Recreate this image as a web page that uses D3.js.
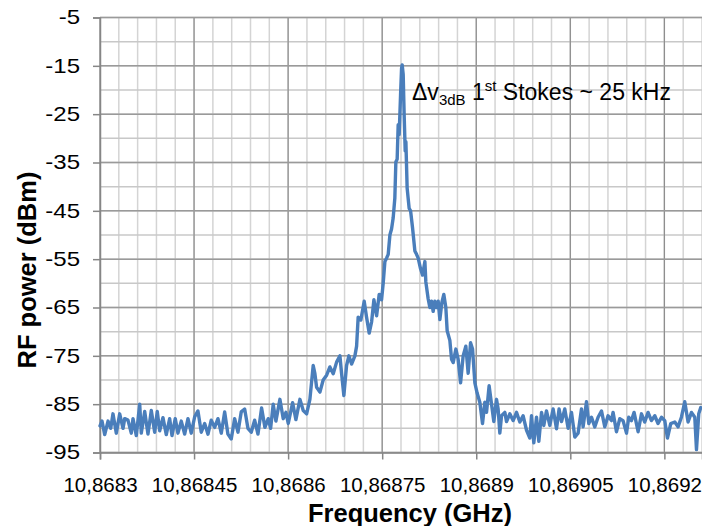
<!DOCTYPE html>
<html>
<head>
<meta charset="utf-8">
<script src="https://cdn.jsdelivr.net/npm/d3@7/dist/d3.min.js"></script>
<style>
  html, body { margin: 0; padding: 0; background: #fff; }
  svg { display: block; font-family: "Liberation Sans", Arial, sans-serif; }
</style>
</head>
<body>
<svg id="chart" width="702" height="526"></svg>
<script>
// Spectrum of the 1st Stokes line: frequency offset (kHz) from 10,8683 GHz and measured RF power (dBm)
const baseGHz = 10.8683;
const freqOffsetKHz = [
  0, 3.2, 7.5, 12.8, 17.1, 20.7, 26.0, 31.4, 36.7, 39.4, 44.6, 49.9, 52.6, 57.9, 63.3, 65.8,
  71.3, 76.5, 81.8, 87.2, 91.3, 95.2, 100.4, 105.7, 111.1, 114.8, 120.0, 124.3, 129.6, 135.0,
  140.3, 145.5, 151.0, 156.2, 161.5, 166.9, 172.2, 177.4, 182.8, 188.1, 193.4, 198.8, 204.0,
  209.3, 214.7, 220.0, 225.2, 230.7, 235.9, 241.2, 246.6, 251.9,
  257.7, 263.0, 268.3, 272.1, 276.2, 280.5, 286.9, 292.2, 296.5, 300.2, 307.2, 312.4, 318.8,
  324.1, 329.5, 334.7, 340.0, 342.7, 345.4, 350.7, 355.9, 361.4, 366.6, 371.9, 377.3, 382.6,
  385.3, 388.9, 393.2, 396.9, 401.2, 406.5, 409.2, 411.7, 416.0, 421.3, 425.1, 429.3, 433.1,
  436.8, 441.1, 445.2, 449.0, 451.6, 454.3, 457.0, 459.6, 462.3, 465.0, 467.5, 470.2, 471.8,
  473.9, 475.5, 477.1, 479.3, 480.9, 481.9, 483.5, 485.0, 486.7, 487.8, 489.8, 493.0, 495.3,
  498.4, 502.1, 504.8, 507.4, 511.2, 514.4, 518.1, 519.6, 523.3, 526.0, 528.7, 531.3, 534.0,
  536.7, 539.3, 542.0, 545.1, 548.3, 551.5, 553.6, 557.9, 560.6, 563.2, 567.5, 571.1, 575.0,
  579.1, 583.4, 587.1, 590.9, 594.1, 597.8, 601.4, 605.7, 610.0, 613.7, 616.4, 620.5, 624.4,
  628.0, 632.3, 634.9, 637.6, 640.3, 645.6, 648.3, 653.5, 658.8, 664.2, 669.5, 674.7, 680.2,
  685.4, 688.1, 691.8, 696.1, 699.8, 704.1, 707.7, 712.0, 717.3, 722.6, 728.0, 732.1, 736.0,
  741.2, 746.5, 751.9, 757.2, 762.4, 767.8, 770.4, 775.8, 779.5, 783.8, 789.0, 794.3, 799.7,
  805.0, 810.2, 815.6, 818.2, 823.6, 828.9, 834.1, 839.6, 843.2, 847.5, 851.7, 858.1, 863.5,
  868.7, 874.0, 879.4, 884.7, 889.9, 895.4, 900.6, 904.9, 910.2, 916.6, 921.8, 927.2, 932.5,
  937.8, 943.2, 948.5, 951.2, 954.8, 958.0
];
const powerDBm = [
  -89.5, -88.5, -91.3, -88.5, -90, -87, -91, -87, -90, -88, -88.3, -91, -88, -91.5, -85, -91,
  -86.5, -91.2, -86.3, -90.8, -86.5, -90.5, -87.8, -91.3, -88, -91.5, -88, -91, -88.5, -91.2,
  -88, -91, -87.6, -86.4, -90.8, -89, -91.2, -88.3, -89.8, -88, -91, -86.6, -91.2,
  -92.2, -88, -90.8, -86.6, -86, -90, -90.8, -88.3, -91.2,
  -85.8, -89.8, -88, -90, -85, -88.5, -84, -88, -86.7, -89, -84.7, -88.2, -84,
  -86.3, -87, -84, -77, -78.7, -81.5, -82.5, -80, -79, -77.3, -78.7, -76.3, -75,
  -78.7, -83.2, -77, -75, -76.7, -75, -73, -67, -67.6, -63.7, -67, -70.3, -68,
  -63.4, -66.7, -62.3, -63.4, -60, -55.5, -54.8, -54, -50, -48.7, -46.5, -42.3, -34.9,
  -34.3, -27.2, -29.2, -21, -15.5, -14.8, -16.8, -25, -32.6, -30.7, -40.3, -44.5, -45,
  -48.5, -53.3, -54, -54.8, -57, -58.3, -55.5, -59.7, -63.2, -65, -63.7, -65.8, -63.7,
  -65, -63.7, -67.5, -64, -62.3, -65, -69.8, -71.8, -75.7, -76.4, -73.6, -75.7, -80.6,
  -75, -73, -78.6, -72.3, -73.6, -80.6, -82.7, -84.6, -89, -84.6, -86.7, -81.2, -85,
  -88.6, -84, -86, -91, -87.4, -86.7, -88.6, -87, -88.4, -86.7, -88.7, -87.4, -90.4,
  -92, -87.4, -93, -87.7, -92.7, -86.7, -89.4, -86.4, -89.4, -86, -90.1, -86, -88.6,
  -86, -90, -86.7, -91.8, -91, -86, -89.7, -84.5, -89, -87.7, -89.7, -87.7, -86.4,
  -89.7, -87.4, -88.4, -86.7, -90.7, -88, -88.4, -91, -87.7, -88.4, -86.7, -90.7, -87,
  -88.7, -86.7, -88.4, -87.4, -89, -87.7, -88.4, -92, -89, -88.7, -89.7, -87.7, -84.5,
  -88.7, -86.7, -87.7, -94.4, -87, -85.7
];

// Axis ticks
const xTickValues = [10.8683, 10.86845, 10.8686, 10.86875, 10.8689, 10.86905, 10.8692];
const xTickLabels = ["10,8683", "10,86845", "10,8686", "10,86875", "10,8689", "10,86905", "10,8692"];
const yTickValues = [-95, -85, -75, -65, -55, -45, -35, -25, -15, -5];
const yTickLabels = ["-95", "-85", "-75", "-65", "-55", "-45", "-35", "-25", "-15", "-5"];
const xMinorStepGHz = 0.00003;
const yMinorStepDB = 5;

const xTitle = "Frequency (GHz)";
const yTitle = "RF power (dBm)";

const svg = d3.select("#chart");
const plotL = 100, plotR = 702, plotT = 17.5, plotB = 452.5;

const x = d3.scaleLinear().domain([10.8683, 10.86926]).range([plotL, plotR]);
const y = d3.scaleLinear().domain([-95, -5]).range([plotB, plotT]);

// Minor grid
const xMinor = d3.range(0, 33).map(i => baseGHz + i * xMinorStepGHz).filter(v => v <= 10.86926);
const yMinor = d3.range(-95, -4, yMinorStepDB);

const grid = svg.append("g");
grid.selectAll("line.vmin").data(xMinor).join("line")
  .attr("x1", d => x(d)).attr("x2", d => x(d))
  .attr("y1", plotT).attr("y2", plotB)
  .attr("stroke", "#d4d4d4").attr("stroke-width", 1.5);
grid.selectAll("line.hmin").data(yMinor).join("line")
  .attr("x1", plotL).attr("x2", plotR)
  .attr("y1", d => y(d)).attr("y2", d => y(d))
  .attr("stroke", "#c8c8c8").attr("stroke-width", 1.5);
// Major grid
grid.selectAll("line.vmaj").data(xTickValues).join("line")
  .attr("x1", d => x(d)).attr("x2", d => x(d))
  .attr("y1", plotT).attr("y2", plotB)
  .attr("stroke", "#8c8c8c").attr("stroke-width", 1.2);
grid.selectAll("line.hmaj").data(yTickValues).join("line")
  .attr("x1", plotL).attr("x2", plotR)
  .attr("y1", d => y(d)).attr("y2", d => y(d))
  .attr("stroke", "#9a9a9a").attr("stroke-width", 1.5);

// Axes
const xAxis = d3.axisBottom(x).tickValues(xTickValues)
  .tickFormat((d, i) => xTickLabels[i]).tickSize(7).tickPadding(17.5);
const yAxis = d3.axisLeft(y).tickValues(yTickValues)
  .tickFormat((d, i) => yTickLabels[i]).tickSize(7).tickPadding(13);

const gx = svg.append("g").attr("transform", `translate(0,${plotB})`).call(xAxis);
const gy = svg.append("g").attr("transform", `translate(${plotL},0)`).call(yAxis);
[gx, gy].forEach(g => {
  g.select(".domain").attr("stroke", "#868686").attr("stroke-width", 1.5);
  g.selectAll(".tick line").attr("stroke", "#868686").attr("stroke-width", 1.5);
  g.selectAll(".tick text").attr("fill", "#000").attr("font-family", "'Liberation Sans', Arial, sans-serif");
});
gx.selectAll(".tick text").attr("font-size", 20.5);
// y labels are set a little wide, right edge kept at x = 80
const yLabelStretch = 1.2;
gy.selectAll(".tick text").attr("font-size", 20)
  .attr("x", -20 / yLabelStretch)
  .attr("transform", `scale(${yLabelStretch},1)`);

// Trace
const pts = freqOffsetKHz.map((k, i) => [baseGHz + k * 1e-6, powerDBm[i]]);
const line = d3.line().x(d => x(d[0])).y(d => y(d[1]));
svg.append("path").datum(pts)
  .attr("d", line)
  .attr("fill", "none")
  .attr("stroke", "#4a7ebb")
  .attr("stroke-width", 3.4)
  .attr("stroke-linejoin", "round")
  .attr("stroke-linecap", "round");

// Titles
svg.append("text").attr("x", 410).attr("y", 522)
  .attr("text-anchor", "middle").attr("font-size", 25.5).attr("font-weight", "bold")
  .text(xTitle);
svg.append("text").attr("transform", "translate(36,270) rotate(-90)")
  .attr("text-anchor", "middle").attr("font-size", 25.5).attr("font-weight", "bold")
  .text(yTitle);

// Linewidth annotation
const ann = svg.append("text").attr("x", 412).attr("y", 100).attr("font-size", 23);
ann.append("tspan").text("Δv");
ann.append("tspan").attr("font-size", 15).attr("dy", 5).text("3dB");
ann.append("tspan").attr("dy", -5).text(" 1");
ann.append("tspan").attr("font-size", 15).attr("dy", -9).text("st");
ann.append("tspan").attr("dy", 9).text(" Stokes ~ 25 kHz");
</script>
</body>
</html>
